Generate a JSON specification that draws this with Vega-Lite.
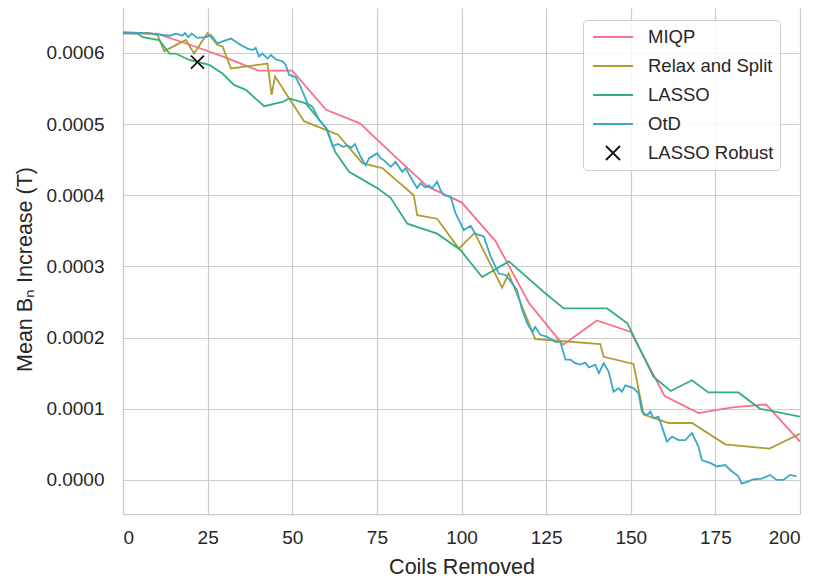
{
  "$schema": "https://vega.github.io/schema/vega-lite/v6.json",
  "width": 677,
  "height": 506,
  "autosize": {"type": "none"},
  "padding": {"left": 123, "top": 8, "right": 17, "bottom": 64},
  "background": "white",
  "config": {
    "view": {"stroke": null},
    "font": "Liberation Sans",
    "axis": {
      "domainColor": "#cccccc",
      "domainWidth": 1.25,
      "gridColor": "#cccccc",
      "gridWidth": 1.2,
      "ticks": false,
      "labelFont": "Liberation Sans",
      "labelFontSize": 19,
      "labelColor": "#262626",
      "titleFont": "Liberation Sans",
      "titleFontSize": 21.5,
      "titleFontWeight": "normal",
      "titleColor": "#262626"
    },
    "legend": {
      "labelFont": "Liberation Sans",
      "labelFontSize": 18.5,
      "labelColor": "#262626"
    }
  },
  "datasets": {
    "d": [
      {"s":"MIQP","x":0,"y":0.000627},{"s":"MIQP","x":10,"y":0.000627},{"s":"MIQP","x":20,"y":0.000611},{"s":"MIQP","x":30,"y":0.000594},{"s":"MIQP","x":40,"y":0.000575},{"s":"MIQP","x":50,"y":0.000575},{"s":"MIQP","x":60,"y":0.00052},{"s":"MIQP","x":70,"y":0.000501},{"s":"MIQP","x":80,"y":0.000456},{"s":"MIQP","x":90,"y":0.000412},{"s":"MIQP","x":100,"y":0.00039},{"s":"MIQP","x":110,"y":0.000336},{"s":"MIQP","x":120,"y":0.000248},{"s":"MIQP","x":130,"y":0.00019},{"s":"MIQP","x":140,"y":0.000224},{"s":"MIQP","x":150,"y":0.000208},{"s":"MIQP","x":160,"y":0.000118},{"s":"MIQP","x":170,"y":0.000094},{"s":"MIQP","x":180,"y":0.000102},{"s":"MIQP","x":190,"y":0.000106},{"s":"MIQP","x":200,"y":0.000054},
      {"s":"Relax and Split","x":0,"y":0.000628},{"s":"Relax and Split","x":7.7,"y":0.000628},{"s":"Relax and Split","x":10.2,"y":0.000625},{"s":"Relax and Split","x":12.2,"y":0.000602},{"s":"Relax and Split","x":13.6,"y":0.000606},{"s":"Relax and Split","x":18.6,"y":0.000618},{"s":"Relax and Split","x":21,"y":0.000599},{"s":"Relax and Split","x":25,"y":0.000628},{"s":"Relax and Split","x":27.9,"y":0.000611},{"s":"Relax and Split","x":29.4,"y":0.000609},{"s":"Relax and Split","x":31.9,"y":0.000578},{"s":"Relax and Split","x":42.7,"y":0.000585},{"s":"Relax and Split","x":43.9,"y":0.000541},{"s":"Relax and Split","x":44.9,"y":0.000567},{"s":"Relax and Split","x":49.1,"y":0.000536},{"s":"Relax and Split","x":53.5,"y":0.000504},{"s":"Relax and Split","x":63.5,"y":0.000485},{"s":"Relax and Split","x":70.7,"y":0.000445},{"s":"Relax and Split","x":76.6,"y":0.000438},{"s":"Relax and Split","x":85.9,"y":0.0004},{"s":"Relax and Split","x":86.9,"y":0.000372},{"s":"Relax and Split","x":92.8,"y":0.000367},{"s":"Relax and Split","x":99.2,"y":0.000325},{"s":"Relax and Split","x":103.9,"y":0.000347},{"s":"Relax and Split","x":112,"y":0.00027},{"s":"Relax and Split","x":113.9,"y":0.00029},{"s":"Relax and Split","x":121.8,"y":0.000198},{"s":"Relax and Split","x":141,"y":0.000191},{"s":"Relax and Split","x":142,"y":0.000173},{"s":"Relax and Split","x":150.8,"y":0.000163},{"s":"Relax and Split","x":153.8,"y":0.000092},{"s":"Relax and Split","x":161.2,"y":0.00008},{"s":"Relax and Split","x":168.1,"y":0.00008},{"s":"Relax and Split","x":177.9,"y":0.00005},{"s":"Relax and Split","x":191,"y":0.000044},{"s":"Relax and Split","x":200,"y":0.000065},
      {"s":"LASSO","x":0,"y":0.000628},{"s":"LASSO","x":4.3,"y":0.000627},{"s":"LASSO","x":5.8,"y":0.000622},{"s":"LASSO","x":10.7,"y":0.000618},{"s":"LASSO","x":13.7,"y":0.000599},{"s":"LASSO","x":15.6,"y":0.000599},{"s":"LASSO","x":19.6,"y":0.00059},{"s":"LASSO","x":25.5,"y":0.000583},{"s":"LASSO","x":29.4,"y":0.000571},{"s":"LASSO","x":32.8,"y":0.000555},{"s":"LASSO","x":36.3,"y":0.000548},{"s":"LASSO","x":41.7,"y":0.000525},{"s":"LASSO","x":47.1,"y":0.000531},{"s":"LASSO","x":49.1,"y":0.000536},{"s":"LASSO","x":54,"y":0.000529},{"s":"LASSO","x":59.9,"y":0.000495},{"s":"LASSO","x":62.8,"y":0.00046},{"s":"LASSO","x":66.8,"y":0.000433},{"s":"LASSO","x":75.1,"y":0.00041},{"s":"LASSO","x":79.1,"y":0.000396},{"s":"LASSO","x":84,"y":0.00036},{"s":"LASSO","x":92.8,"y":0.000346},{"s":"LASSO","x":99.7,"y":0.000323},{"s":"LASSO","x":106.1,"y":0.000285},{"s":"LASSO","x":114,"y":0.000307},{"s":"LASSO","x":124.3,"y":0.000264},{"s":"LASSO","x":130.2,"y":0.000241},{"s":"LASSO","x":143,"y":0.000241},{"s":"LASSO","x":149,"y":0.00022},{"s":"LASSO","x":156.7,"y":0.000145},{"s":"LASSO","x":161.8,"y":0.000125},{"s":"LASSO","x":168.1,"y":0.00014},{"s":"LASSO","x":172.9,"y":0.000123},{"s":"LASSO","x":181.8,"y":0.000123},{"s":"LASSO","x":188.2,"y":0.0001},{"s":"LASSO","x":200,"y":0.000089},
      {"s":"OtD","x":0,"y":0.000629},{"s":"OtD","x":5,"y":0.000628},{"s":"OtD","x":7.8,"y":0.000627},{"s":"OtD","x":10.7,"y":0.000626},{"s":"OtD","x":13.7,"y":0.000624},{"s":"OtD","x":15.6,"y":0.000627},{"s":"OtD","x":17.6,"y":0.000624},{"s":"OtD","x":18.3,"y":0.000628},{"s":"OtD","x":19.3,"y":0.000622},{"s":"OtD","x":20.3,"y":0.000627},{"s":"OtD","x":22,"y":0.000621},{"s":"OtD","x":24.5,"y":0.000622},{"s":"OtD","x":26,"y":0.000625},{"s":"OtD","x":27.9,"y":0.000613},{"s":"OtD","x":29.4,"y":0.000616},{"s":"OtD","x":31.9,"y":0.00062},{"s":"OtD","x":34.8,"y":0.000611},{"s":"OtD","x":36.8,"y":0.000606},{"s":"OtD","x":38.3,"y":0.000604},{"s":"OtD","x":39.2,"y":0.000607},{"s":"OtD","x":40.2,"y":0.000595},{"s":"OtD","x":41.2,"y":0.000599},{"s":"OtD","x":42.7,"y":0.000592},{"s":"OtD","x":43.7,"y":0.000597},{"s":"OtD","x":45.1,"y":0.000591},{"s":"OtD","x":47.1,"y":0.000588},{"s":"OtD","x":48.1,"y":0.000583},{"s":"OtD","x":49.1,"y":0.000569},{"s":"OtD","x":51,"y":0.000566},{"s":"OtD","x":52.5,"y":0.000552},{"s":"OtD","x":54.5,"y":0.000529},{"s":"OtD","x":56,"y":0.000524},{"s":"OtD","x":57.9,"y":0.000506},{"s":"OtD","x":60.4,"y":0.000492},{"s":"OtD","x":61.9,"y":0.000469},{"s":"OtD","x":63.5,"y":0.000472},{"s":"OtD","x":65,"y":0.000468},{"s":"OtD","x":66.3,"y":0.00047},{"s":"OtD","x":67.5,"y":0.000467},{"s":"OtD","x":68.5,"y":0.000472},{"s":"OtD","x":70.2,"y":0.000454},{"s":"OtD","x":71.7,"y":0.000442},{"s":"OtD","x":72.7,"y":0.000452},{"s":"OtD","x":74.1,"y":0.000456},{"s":"OtD","x":75.1,"y":0.000459},{"s":"OtD","x":76.1,"y":0.000452},{"s":"OtD","x":77.1,"y":0.000449},{"s":"OtD","x":79.1,"y":0.00044},{"s":"OtD","x":80.5,"y":0.000447},{"s":"OtD","x":82.5,"y":0.000433},{"s":"OtD","x":83.5,"y":0.000438},{"s":"OtD","x":85.5,"y":0.000421},{"s":"OtD","x":86.9,"y":0.00041},{"s":"OtD","x":87.9,"y":0.000417},{"s":"OtD","x":89.3,"y":0.000411},{"s":"OtD","x":90.3,"y":0.000414},{"s":"OtD","x":91.4,"y":0.00041},{"s":"OtD","x":92.8,"y":0.000419},{"s":"OtD","x":93.8,"y":0.000407},{"s":"OtD","x":94.8,"y":0.0004},{"s":"OtD","x":96.8,"y":0.000398},{"s":"OtD","x":98.2,"y":0.000375},{"s":"OtD","x":100.7,"y":0.000351},{"s":"OtD","x":102.7,"y":0.000357},{"s":"OtD","x":104.1,"y":0.000346},{"s":"OtD","x":106.6,"y":0.000342},{"s":"OtD","x":108.6,"y":0.000314},{"s":"OtD","x":111,"y":0.00029},{"s":"OtD","x":113,"y":0.000288},{"s":"OtD","x":115,"y":0.000276},{"s":"OtD","x":116.4,"y":0.000267},{"s":"OtD","x":117.9,"y":0.000239},{"s":"OtD","x":119.4,"y":0.00022},{"s":"OtD","x":120.9,"y":0.000208},{"s":"OtD","x":121.8,"y":0.000215},{"s":"OtD","x":123.3,"y":0.000204},{"s":"OtD","x":125.3,"y":0.000201},{"s":"OtD","x":127.7,"y":0.000194},{"s":"OtD","x":129.2,"y":0.000194},{"s":"OtD","x":130.7,"y":0.000169},{"s":"OtD","x":132.2,"y":0.000169},{"s":"OtD","x":133.6,"y":0.000164},{"s":"OtD","x":135.1,"y":0.000162},{"s":"OtD","x":136.6,"y":0.000165},{"s":"OtD","x":137.6,"y":0.000158},{"s":"OtD","x":139.5,"y":0.000162},{"s":"OtD","x":140.6,"y":0.00015},{"s":"OtD","x":142,"y":0.000164},{"s":"OtD","x":143.5,"y":0.000152},{"s":"OtD","x":144.9,"y":0.000124},{"s":"OtD","x":146.4,"y":0.000129},{"s":"OtD","x":147.4,"y":0.000124},{"s":"OtD","x":148.4,"y":0.000133},{"s":"OtD","x":150.8,"y":0.000129},{"s":"OtD","x":152.3,"y":0.000122},{"s":"OtD","x":153.3,"y":0.000096},{"s":"OtD","x":154.8,"y":0.000091},{"s":"OtD","x":155.8,"y":0.000096},{"s":"OtD","x":156.7,"y":0.000087},{"s":"OtD","x":158.2,"y":0.000089},{"s":"OtD","x":160.7,"y":0.000054},{"s":"OtD","x":162.2,"y":0.000061},{"s":"OtD","x":164.1,"y":0.000056},{"s":"OtD","x":166.1,"y":0.000056},{"s":"OtD","x":168.1,"y":0.000066},{"s":"OtD","x":170,"y":0.000047},{"s":"OtD","x":171,"y":0.000028},{"s":"OtD","x":173.9,"y":0.000023},{"s":"OtD","x":175.4,"y":0.000019},{"s":"OtD","x":177.9,"y":0.000021},{"s":"OtD","x":179.4,"y":0.000014},{"s":"OtD","x":181.8,"y":0.000005},{"s":"OtD","x":182.8,"y":-0.000005},{"s":"OtD","x":184.8,"y":-0.000002},{"s":"OtD","x":186.2,"y":0.000001},{"s":"OtD","x":188.7,"y":0.000002},{"s":"OtD","x":191.2,"y":0.000007},{"s":"OtD","x":193.1,"y":0.0},{"s":"OtD","x":195.1,"y":0.0},{"s":"OtD","x":197.1,"y":0.000007},{"s":"OtD","x":199,"y":0.000005},
      {"s":"LASSO Robust","x":22,"y":0.000587}
    ]
  },
  "data": {"name": "d"},
  "encoding": {
    "x": {
      "field": "x", "type": "quantitative",
      "scale": {"domain": [0, 200], "nice": false, "zero": false},
      "axis": {
        "values": [0, 25, 50, 75, 100, 125, 150, 175, 200],
        "labelPadding": 14,
        "title": "Coils Removed",
        "titleX": 338.5, "titleY": 59, "titleBaseline": "alphabetic", "titleAlign": "center"
      }
    },
    "y": {
      "field": "y", "type": "quantitative",
      "scale": {"domain": [-0.0000478, 0.000663], "nice": false, "zero": false},
      "axis": {
        "values": [0, 0.0001, 0.0002, 0.0003, 0.0004, 0.0005, 0.0006],
        "format": ".4f",
        "labelPadding": 19,
        "title": "Mean Bₙ Increase (T)",
        "titleAngle": -90, "titleX": -92, "titleY": 261, "titleBaseline": "alphabetic", "titleAlign": "center"
      }
    },
    "color": {
      "field": "s", "type": "nominal",
      "scale": {
        "domain": ["MIQP", "Relax and Split", "LASSO", "OtD", "LASSO Robust"],
        "range": ["#f77189", "#ae9d31", "#33b07a", "#38a9c5", "#111111"]
      },
      "legend": {
        "title": null,
        "orient": "none", "legendX": 460, "legendY": 12,
        "padding": 6, "rowPadding": 8,
        "symbolSize": 400, "symbolStrokeWidth": 1.8, "symbolOffset": 13, "labelOffset": 24,
        "strokeColor": "#cccccc", "fillColor": "rgba(255,255,255,0.8)", "cornerRadius": 4
      }
    }
  },
  "layer": [
    {
      "transform": [{"filter": "datum.s !== 'LASSO Robust'"}],
      "mark": {"type": "line", "strokeWidth": 1.8, "clip": true}
    },
    {
      "transform": [{"filter": "datum.s === 'LASSO Robust'"}],
      "mark": {"type": "point", "filled": false, "strokeWidth": 1.8, "size": 346, "opacity": 1},
      "encoding": {
        "shape": {
          "field": "s", "type": "nominal",
          "scale": {
            "domain": ["MIQP", "Relax and Split", "LASSO", "OtD", "LASSO Robust"],
            "range": ["M-2,0H2", "M-2,0H2", "M-2,0H2", "M-2,0H2", "M-0.7,-0.7L0.7,0.7M-0.7,0.7L0.7,-0.7"]
          },
          "legend": {
            "title": null,
            "orient": "none", "legendX": 460, "legendY": 12,
            "padding": 6, "rowPadding": 8,
            "symbolSize": 400, "symbolStrokeWidth": 1.8, "symbolOffset": 13, "labelOffset": 24,
            "strokeColor": "#cccccc", "fillColor": "rgba(255,255,255,0.8)", "cornerRadius": 4
          }
        }
      }
    }
  ]
}
